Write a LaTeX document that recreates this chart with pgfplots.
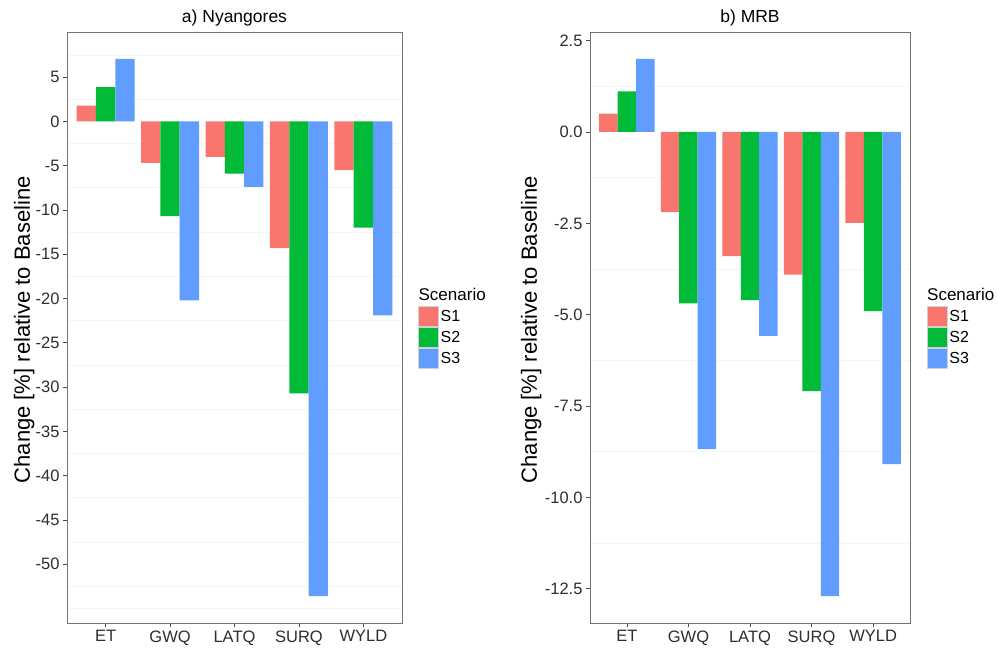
\documentclass[border=0pt]{standalone}
\usepackage{fontspec}
\setmainfont{Liberation Sans}
\usepackage{pgfplots}
\pgfplotsset{compat=1.18}
\definecolor{cA}{HTML}{F8766D}
\definecolor{cB}{HTML}{00BA38}
\definecolor{cC}{HTML}{619CFF}
\pgfplotsset{
  gg/.style={
    scale only axis,
    ybar,
    bar width=0.3,
    clip=false,
    xmin=-0.6, xmax=4.6,
    xtick={0,1,2,3,4},
    xticklabels={ET,GWQ,LATQ,SURQ,WYLD},
    xtick pos=bottom, ytick pos=left,
    tick align=outside,
    major tick length=4bp,
    minor tick length=0bp,
    tick style={black!70, line width=0.8bp},
    axis line style={black!55, line width=0.9bp},
    ymajorgrids=false, yminorgrids=true,
    minor grid style={black!4, line width=0.8bp},
    /pgf/number format/assume math mode=true,
    tick label style={font=\fontsize{16.5bp}{19bp}\selectfont, text=black!82},
    title style={font=\fontsize{17.5bp}{21bp}\selectfont, at={(axis description cs:0.5,1)}, anchor=south, yshift=-4bp},
    ylabel={Change [\%] relative to Baseline},
    ylabel style={anchor=center, font=\fontsize{22bp}{26bp}\selectfont},
    legend style={draw=none, fill=none, inner sep=0pt, row sep=0pt,
      font=\fontsize{16bp}{19bp}\selectfont, cells={anchor=west},
      nodes={inner sep=1.5bp}},
    legend cell align=left,
  },
  k1/.style={legend image code/.code={\draw[fill=cA, draw=black!18, line width=1.2bp] (0.6bp,-9.9bp) rectangle (20.4bp,9.9bp);}},
  k2/.style={legend image code/.code={\draw[fill=cB, draw=black!18, line width=1.2bp] (0.6bp,-9.9bp) rectangle (20.4bp,9.9bp);}},
  k3/.style={legend image code/.code={\draw[fill=cC, draw=black!18, line width=1.2bp] (0.6bp,-9.9bp) rectangle (20.4bp,9.9bp);}},
}
\begin{document}
\begin{tikzpicture}
\useasboundingbox (0,0) rectangle (998bp,653bp);
% ---------- a) Nyangores ----------
\begin{axis}[gg,
  at={(67bp,30bp)}, anchor=south west,
  width=335bp, height=591bp,
  ymin=-56.63, ymax=10.09,
  ytick={-50,-45,-40,-35,-30,-25,-20,-15,-10,-5,0,5},
  minor ytick={-55,-52.5,-47.5,-42.5,-37.5,-32.5,-27.5,-22.5,-17.5,-12.5,-7.5,-2.5,2.5,7.5},
  title={a) Nyangores},
  ylabel style={at={(axis description cs:-0.128,0.496)}},
  legend style={at={(axis description cs:1.0478,0.537)}, anchor=north west},
]
\addplot[fill=cA, draw=none, bar shift=-0.3, k1] coordinates {(0,1.77) (1,-4.69) (2,-4.0) (3,-14.3) (4,-5.5)};
\addplot[fill=cB, draw=none, bar shift=0, k2] coordinates {(0,3.86) (1,-10.7) (2,-5.9) (3,-30.7) (4,-12.0)};
\addplot[fill=cC, draw=none, bar shift=0.3, k3] coordinates {(0,7.06) (1,-20.2) (2,-7.4) (3,-53.6) (4,-21.9)};
\legend{S1,S2,S3}
\node[anchor=west, inner sep=0pt, font=\fontsize{17bp}{20bp}\selectfont] at (axis description cs:1.0491,0.5567) {Scenario};
\end{axis}
% ---------- b) MRB ----------
\begin{axis}[gg,
  at={(590bp,30bp)}, anchor=south west,
  width=320bp, height=591bp,
  ymin=-13.435, ymax=2.735,
  ytick={-12.5,-10,-7.5,-5,-2.5,0,2.5},
  yticklabel style={/pgf/number format/fixed, /pgf/number format/fixed zerofill, /pgf/number format/precision=1},
  minor ytick={-11.25,-8.75,-6.25,-3.75,-1.25,1.25},
  title={b) MRB},
  ylabel style={at={(axis description cs:-0.184,0.496)}},
  legend style={at={(axis description cs:1.052,0.537)}, anchor=north west},
]
\addplot[fill=cA, draw=none, bar shift=-0.3, k1] coordinates {(0,0.50) (1,-2.19) (2,-3.40) (3,-3.90) (4,-2.49)};
\addplot[fill=cB, draw=none, bar shift=0, k2] coordinates {(0,1.11) (1,-4.69) (2,-4.60) (3,-7.09) (4,-4.90)};
\addplot[fill=cC, draw=none, bar shift=0.3, k3] coordinates {(0,2.00) (1,-8.68) (2,-5.58) (3,-12.70) (4,-9.09)};
\legend{S1,S2,S3}
\node[anchor=west, inner sep=0pt, font=\fontsize{17bp}{20bp}\selectfont] at (axis description cs:1.053,0.5567) {Scenario};
\end{axis}
\end{tikzpicture}
\end{document}
